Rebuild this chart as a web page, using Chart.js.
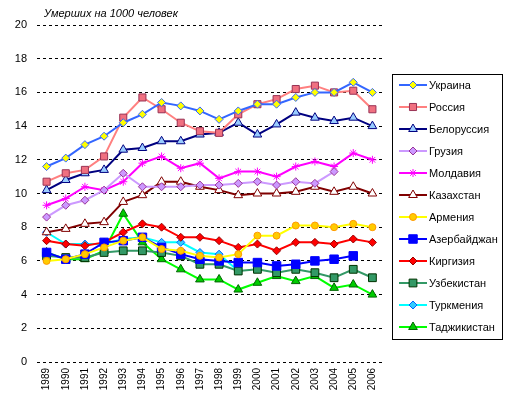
<!DOCTYPE html>
<html>
<head>
<meta charset="utf-8">
<script src="https://cdn.jsdelivr.net/npm/chart.js@4/dist/chart.umd.min.js"></script>
<style>
  html, body { margin: 0; padding: 0; background: #fff; }
  #wrap { position: relative; width: 514px; height: 410px; }
</style>
</head>
<body>
<div id="wrap"><canvas id="deathChart" width="514" height="410"></canvas></div>
<script>
// --- DATA ---
const years = ["1989","1990","1991","1992","1993","1994","1995","1996","1997",
  "1998","1999","2000","2001","2002","2003","2004","2005","2006"];

const ukraine      = [11.6,12.1,12.9,13.4,14.2,14.7,15.4,15.2,14.9,14.4,14.9,15.3,15.3,15.7,16.0,16.0,16.6,16.0];
const russia       = [10.7,11.2,11.4,12.2,14.5,15.7,15.0,14.2,13.7,13.6,14.7,15.3,15.6,16.2,16.4,16.0,16.1,15.0];
const belarus      = [10.2,10.8,11.2,11.4,12.6,12.7,13.1,13.1,13.5,13.6,14.2,13.5,14.1,14.8,14.5,14.3,14.5,14.0];
const georgia      = [8.6,9.3,9.6,10.2,11.2,10.4,10.4,10.4,10.5,10.5,10.6,10.7,10.5,10.7,10.6,11.3,null,null];
const moldova      = [9.3,9.7,10.4,10.2,10.7,11.8,12.2,11.5,11.8,10.9,11.3,11.3,11.0,11.6,11.9,11.6,12.4,12.0];
const kazakhstan   = [7.7,7.9,8.2,8.3,9.5,9.9,10.7,10.7,10.4,10.2,9.9,10.0,10.0,10.1,10.4,10.1,10.4,10.0];
const armenia      = [6.0,6.1,6.4,6.8,7.2,7.4,6.7,6.6,6.3,6.2,6.4,7.5,7.5,8.1,8.1,8.0,8.2,8.0];
const azerbaijan   = [6.5,6.1,6.4,7.1,7.2,7.4,6.8,6.4,6.1,6.0,5.9,5.9,5.7,5.8,6.0,6.1,6.3,null];
const kyrgyzstan   = [7.2,7.0,6.9,7.1,7.7,8.2,8.0,7.4,7.4,7.2,6.8,7.0,6.6,7.1,7.1,7.0,7.3,7.1];
const uzbekistan   = [6.3,6.2,6.2,6.5,6.6,6.6,6.5,6.3,5.8,5.8,5.4,5.5,5.3,5.5,5.3,5.0,5.5,5.0];
const turkmenistan = [7.7,7.0,7.0,7.0,7.3,7.4,7.1,7.1,6.5,6.4,5.4,null,null,null,null,null,null,null];
const tajikistan   = [6.5,6.1,6.1,6.6,8.8,7.1,6.1,5.5,4.9,4.9,4.3,4.7,5.1,4.8,5.1,4.4,4.6,4.0];

const yTitle = "Умерших на 1000 человек";
const FONT = "'Liberation Sans', Arial, sans-serif";

// helper to build one series
function series(label, data, line, style, radius, fill, border) {
  return {
    label: label,
    data: data,
    borderColor: line,
    backgroundColor: fill,
    borderWidth: 2,
    pointStyle: style,
    pointRadius: radius,
    pointHoverRadius: radius,
    pointBackgroundColor: fill,
    pointBorderColor: border,
    pointBorderWidth: 1,
    tension: 0,
    fill: false,
  };
}

const datasets = [
  series("Украина", ukraine, "#3366FF", "rectRot", 4, "#FFFF00", "#3366FF"),
  series("Россия", russia, "#FF8080", "rect", 5, "#F07080", "#993355"),
  series("Белоруссия", belarus, "#000080", "triangle", 5, "#99CCFF", "#000080"),
  series("Грузия", georgia, "#CC99FF", "rectRot", 4, "#CC99FF", "#993399"),
  series("Молдавия", moldova, "#FF00FF", "star", 4, "#FF00FF", "#FF00FF"),
  series("Казахстан", kazakhstan, "#800000", "triangle", 5, "#FFFFFF", "#800000"),
  series("Армения", armenia, "#FFFF00", "circle", 3.5, "#FFCC00", "#FF9900"),
  series("Азербайджан", azerbaijan, "#0000FF", "rect", 6, "#0000FF", "#0000FF"),
  series("Киргизия", kyrgyzstan, "#FF0000", "rectRot", 4, "#FF0000", "#990000"),
  series("Узбекистан", uzbekistan, "#339966", "rect", 5.5, "#339966", "#003300"),
  series("Туркмения", turkmenistan, "#00FFFF", "rectRot", 4, "#33CCFF", "#0066FF"),
  series("Таджикистан", tajikistan, "#00FF00", "triangle", 5, "#00CC00", "#006600"),
];

// --- PLUGIN: title text and boxed legend ---
const extras = {
  id: "extras",
  afterDraw(chart) {
    const ctx = chart.ctx;
    ctx.save();
    ctx.fillStyle = "#000";
    ctx.font = "italic 11px " + FONT;
    ctx.textBaseline = "middle";
    ctx.textAlign = "left";
    ctx.fillText(yTitle, 44, 14);

    // legend box
    ctx.fillStyle = "#fff";
    ctx.fillRect(392, 74, 110, 265);
    ctx.strokeStyle = "#000";
    ctx.lineWidth = 1;
    ctx.strokeRect(392.5, 74.5, 110, 265);

    ctx.font = "11px " + FONT;
    chart.data.datasets.forEach((ds, i) => {
      const y = 85 + i * 22;
      ctx.strokeStyle = ds.borderColor;
      ctx.lineWidth = 2;
      ctx.beginPath();
      ctx.moveTo(399, y);
      ctx.lineTo(427, y);
      ctx.stroke();
      ctx.fillStyle = ds.pointBackgroundColor;
      ctx.strokeStyle = ds.pointBorderColor;
      ctx.lineWidth = 1;
      Chart.helpers.drawPoint(ctx, {
        pointStyle: ds.pointStyle, radius: ds.pointRadius, rotation: 0, borderWidth: 1
      }, 413, y);
      ctx.fillStyle = "#000";
      ctx.fillText(ds.label, 429, y + 0.5);
    });
    ctx.restore();
  }
};

const ctx = document.getElementById("deathChart").getContext("2d");
new Chart(ctx, {
  type: "line",
  data: { labels: years, datasets: datasets },
  options: {
    responsive: false,
    animation: false,
    events: [],
    layout: { padding: { top: 25, right: 132, left: 0, bottom: 0 } },
    plugins: {
      legend: { display: false },
      tooltip: { enabled: false },
    },
    scales: {
      x: {
        offset: true,
        grid: { display: false, drawTicks: false },
        border: { display: false },
        ticks: {
          color: "#000",
          font: { family: FONT, size: 10 },
          minRotation: 90,
          maxRotation: 90,
          padding: 6,
          autoSkip: false,
        },
        afterFit(scale) { scale.height = 48; },
      },
      y: {
        min: 0,
        max: 20,
        grid: { color: "#000", lineWidth: 1, drawTicks: false },
        border: { display: false, dash: [3, 3] },
        ticks: {
          stepSize: 2,
          color: "#000",
          font: { family: FONT, size: 11 },
          padding: 10,
        },
        afterFit(scale) { scale.width = 37; },
      },
    },
  },
  plugins: [extras],
});
</script>
</body>
</html>
